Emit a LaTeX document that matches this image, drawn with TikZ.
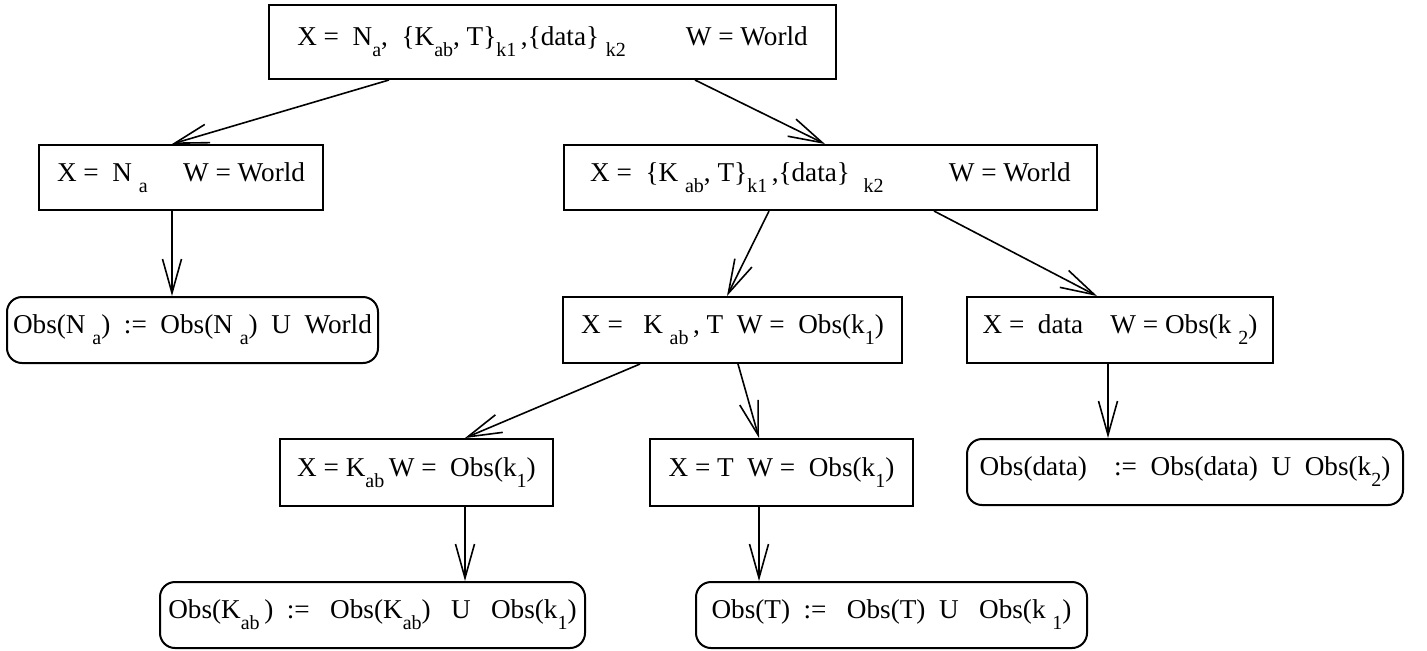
\documentclass[tikz,border=0pt]{standalone}
\usepackage{fontspec}
\setmainfont{Liberation Serif}
\usetikzlibrary{arrows.meta,calc}
\newcommand{\sbx}[1]{\raisebox{-5.5pt}{\fontsize{10}{10}\selectfont #1}}

\begin{document}
\begin{tikzpicture}[x=0.5pt, y=-0.5pt, font=\fontsize{13.6}{15}\selectfont,
    etapa/.style={draw, line width=1pt, inner sep=0pt, align=center},
    hoja/.style={etapa, rounded corners=7.5pt},
    flecha/.style={line width=0.8pt, -{Straight Barb[length=17pt,width=9.5pt,line width=0.8pt]}}]
  \useasboundingbox (0,0) rectangle (1427,650);
  % nivel 0
  \node[etapa, minimum width=283.5pt, minimum height=37pt] (top) at (552.5,42)
    {X =~~N\sbx{a},~~\{K\sbx{ab}, T\}\sbx{k1}\,,\{data\}~\sbx{k2}\hspace{2.2em}W = World};
  % nivel 1
  \node[etapa, minimum width=142pt, minimum height=32.5pt] (n1) at (181,177.5)
    {X =~~N~\sbx{a}\hspace{1.3em}W = World};
  \node[etapa, minimum width=266.5pt, minimum height=32.5pt] (n2) at (830.5,177.5)
    {X =~~\{K~\sbx{ab}, T\}\sbx{k1}\,,\{data\}~~\sbx{k2}\hspace{2.4em}W = World};
  % nivel 2
  \node[hoja, minimum width=185.5pt, minimum height=33pt] (h1) at (192.5,330)
    {Obs(N~\sbx{a})~~:=~~Obs(N~\sbx{a})~~U~~World};
  \node[etapa, minimum width=169.5pt, minimum height=33pt] (n3) at (732.5,330)
    {X =~~~K~\sbx{ab}\,, T~~W =~~Obs(k\sbx{1})};
  \node[etapa, minimum width=153pt, minimum height=33pt] (n4) at (1120,330)
    {X =~~data~~~~W = Obs(k~\sbx{2})};
  % nivel 3
  \node[etapa, minimum width=136.5pt, minimum height=33.5pt] (n5) at (416.5,472.5)
    {X = K\sbx{ab}\,W =~~Obs(k\sbx{1})};
  \node[etapa, minimum width=131.5pt, minimum height=33.5pt] (n6) at (781.5,472.5)
    {X = T~~W =~~Obs(k\sbx{1})};
  \node[hoja, minimum width=218pt, minimum height=33pt] (h4) at (1185,472)
    {Obs(data)~~~~:=~~Obs(data)~~U~~Obs(k\sbx{2})};
  % nivel 4
  \node[hoja, minimum width=212.5pt, minimum height=33pt] (h5) at (372.5,615)
    {Obs(K\sbx{ab}\,)~~:=~~~Obs(K\sbx{ab})~~~U~~~Obs(k\sbx{1})};
  \node[hoja, minimum width=195.5pt, minimum height=33pt] (h6) at (891.5,615)
    {Obs(T)~~:=~~~Obs(T)~~U~~~Obs(k~\sbx{1})};
  % conexiones
  \foreach \a/\sa/\b/\sb in {top/-163.5/n1/-9, top/142.5/n2/-5.5, n1/-9/h1/-20.5,
                             n2/-61.5/n3/-5.5, n2/103.5/n4/-23, n4/-12/h4/-77,
                             n3/-92.5/n5/48.5, n3/5.5/n6/-22.5, n5/48.5/h5/92.5,
                             n6/-22.5/h6/-132.5}{
    \draw[flecha] ($(\a.south)+(\sa,0)$) -- ($(\b.north)+(\sb,0)$);
  }
\end{tikzpicture}
\end{document}
